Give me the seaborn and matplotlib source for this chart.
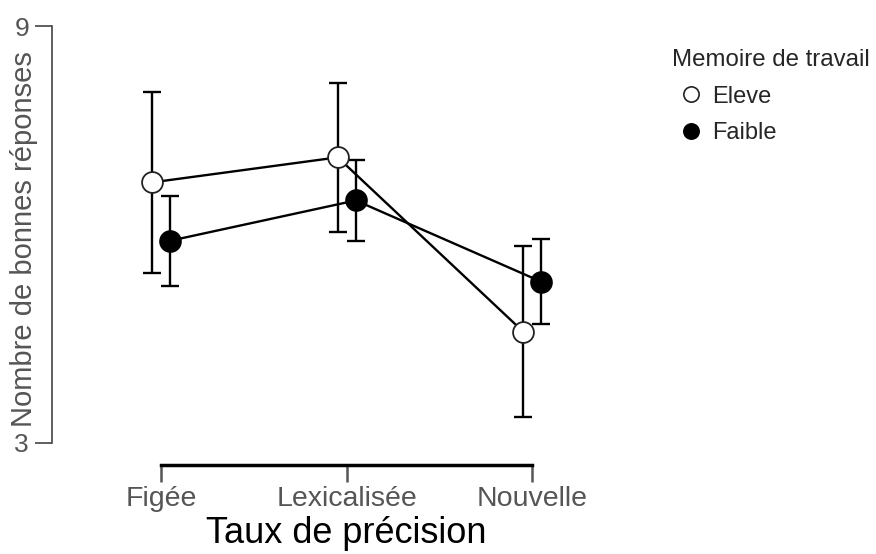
import numpy as np
import pandas as pd
import matplotlib
matplotlib.use("Agg")
import matplotlib.pyplot as plt
from matplotlib.lines import Line2D
import seaborn as sns

# ---- data ----
conditions = ["Figée", "Lexicalisée", "Nouvelle"]
groups = ["Eleve", "Faible"]
eleve_mean = [6.75, 7.11, 4.60]
eleve_err = [1.30, 1.07, 1.23]
faible_mean = [5.91, 6.49, 5.32]
faible_err = [0.65, 0.58, 0.61]

df = pd.DataFrame({
    "Taux": conditions * 2,
    "Groupe": [groups[0]] * 3 + [groups[1]] * 3,
    "Score": eleve_mean + faible_mean,
})
errs = {"Eleve": eleve_err, "Faible": faible_err}

sns.set_theme(style="white")
plt.rcParams["font.family"] = ["Liberation Sans", "DejaVu Sans"]

W, H = 876, 554
fig = plt.figure(figsize=(W / 100, H / 100), dpi=100)
ax_left, ax_right, ax_top, ax_bottom = 52, 640, 26, 443
ax = fig.add_axes([ax_left / W, (H - ax_bottom) / H,
                   (ax_right - ax_left) / W, (ax_bottom - ax_top) / H])

sns.pointplot(data=df, x="Taux", y="Score", hue="Groupe", order=conditions,
              hue_order=groups, palette=["black", "black"], errorbar=None,
              dodge=0.097, markers="o", linestyles="-", ax=ax, legend=False)

styles = {"Eleve": dict(mfc="white", mec="#222222"),
          "Faible": dict(mfc="black", mec="black")}

lines = [l for l in ax.lines if len(l.get_xdata()) == 3]
for g, line in zip(groups, lines):
    xs = np.asarray(line.get_xdata(), dtype=float)
    ys = np.asarray(line.get_ydata(), dtype=float)
    ax.errorbar(xs, ys, yerr=errs[g], fmt="none", ecolor="black",
                elinewidth=1.7, capsize=6.5, capthick=1.7, zorder=2)
    line.set_color("black")
    line.set_linewidth(1.7)
    line.set_markersize(15)
    line.set_markeredgewidth(1.3)
    line.set_markerfacecolor(styles[g]["mfc"])
    line.set_markeredgecolor(styles[g]["mec"])
    line.set_zorder(3 if g == "Eleve" else 4)

ax.set_ylim(3, 9)
ax.set_xlim(-0.588, 2.58)
ax.set_yticks([3, 9])
ax.set_yticklabels(["3", "9"])

for s in ["top", "right"]:
    ax.spines[s].set_visible(False)
ax.spines["left"].set_color("#444444")
ax.spines["left"].set_linewidth(1.2)
ax.spines["left"].set_bounds(3, 9)
ax.spines["bottom"].set_position(("outward", 16))
ax.spines["bottom"].set_bounds(0, 2)
ax.spines["bottom"].set_color("black")
ax.spines["bottom"].set_linewidth(2.5)

ax.tick_params(axis="y", which="major", direction="out", length=12, width=1.2,
               color="#444444", labelsize=19, labelcolor="#555555", pad=4.5, left=True)
ax.tick_params(axis="x", which="major", direction="out", length=12, width=1.8,
               color="#555555", labelsize=20.5, labelcolor="#555555", pad=3, bottom=True)

ax.set_xlabel("Taux de précision", fontsize=26, color="black", labelpad=3)
ax.set_ylabel("Nombre de bonnes réponses", fontsize=21, color="#555555")
ax.yaxis.set_label_coords(-0.024, 0.49)

handles = [Line2D([], [], linestyle="none", marker="o", markersize=11,
                  markerfacecolor=styles[g]["mfc"], markeredgecolor=styles[g]["mec"],
                  markeredgewidth=1.2) for g in groups]
leg = fig.legend(handles, groups, title="Memoire de travail",
                 loc="upper left", bbox_to_anchor=(672 / W, 1 - 49 / H),
                 frameon=False, fontsize=17, title_fontsize=17.3,
                 handlelength=1.6, handletextpad=0.1, labelspacing=0.62,
                 borderpad=0, borderaxespad=0, alignment="left")

fig.savefig("out.png", dpi=100)
